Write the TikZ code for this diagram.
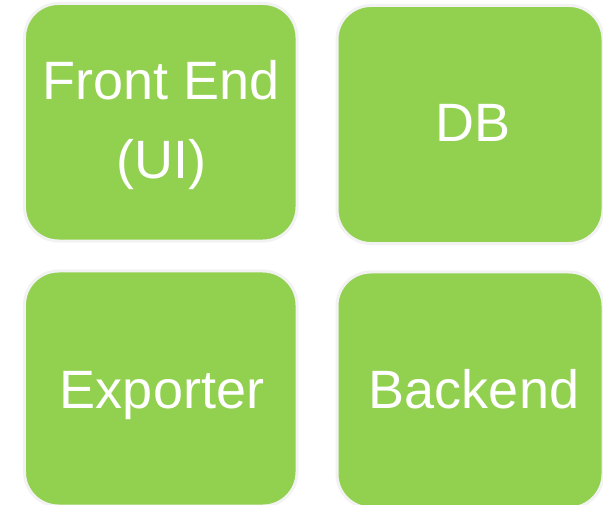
\documentclass[tikz,border=0pt]{standalone}
\usepackage{fontspec}
\setmainfont{Liberation Sans}
\definecolor{boxgreen}{RGB}{146,208,80}
\definecolor{boxrim}{RGB}{242,242,242}
\begin{document}
\begin{tikzpicture}[x=1bp,y=-1bp,
  tile/.style={draw=boxrim,line width=3bp,fill=boxgreen,rounded corners=34bp,
    rectangle,inner sep=0pt,outer sep=0pt},
  word/.style={text=white,inner sep=0pt,outer sep=0pt,anchor=base,
    font=\fontsize{54bp}{64bp}\selectfont}]
\useasboundingbox (0,0) rectangle (603,505);
\node[tile,minimum width=272.5bp,minimum height=237.5bp] (fe) at (160.75,122.25) {};
\node[tile,minimum width=266bp,minimum height=238bp] (db) at (470,124.5) {};
\node[tile,minimum width=272.5bp,minimum height=235bp] (ex) at (160.75,388.5) {};
\node[tile,minimum width=266bp,minimum height=236bp] (be) at (470,390) {};
\node[word] (fe1) at (161.5,99.5) {Front End};
\node[word] (fe2) at (161.5,178.5) {(UI)};
\node[word] (dbt) at (473,141.5) {DB};
\node[word] (ext) at (162,408.5) {Exporter};
\node[word] (bet) at (474,408.5) {Backend};
\end{tikzpicture}
\end{document}
